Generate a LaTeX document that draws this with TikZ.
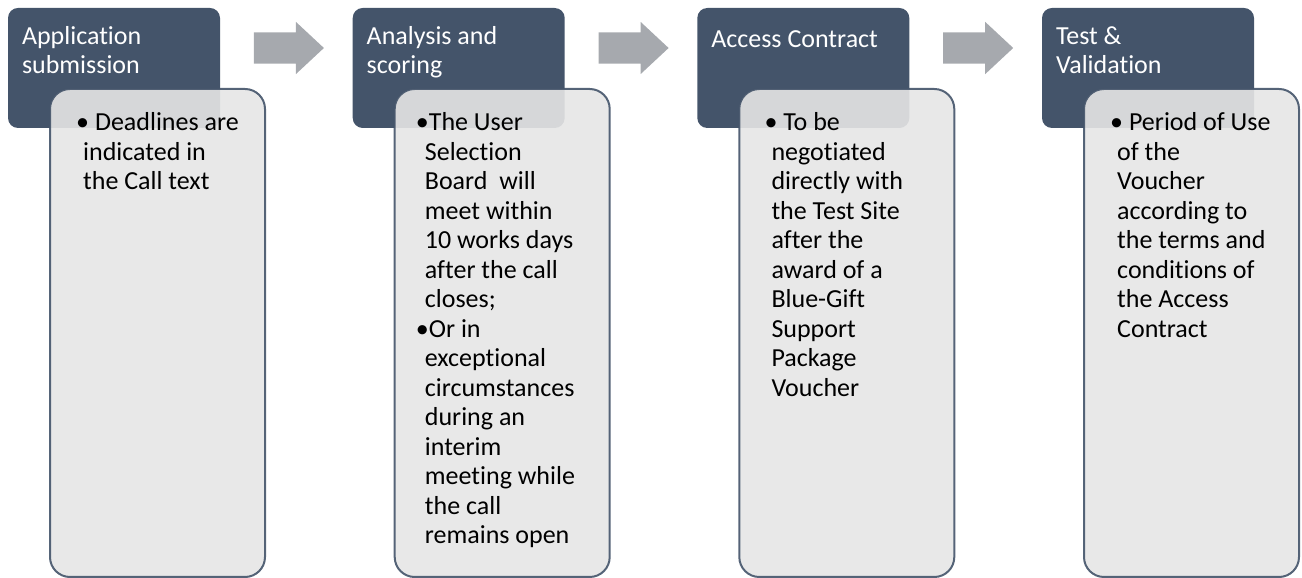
\documentclass[tikz,border=0pt]{standalone}
\usepackage{fontspec}
\setmainfont{Carlito}[Ligatures=NoCommon]
\usetikzlibrary{shapes.arrows,calc}
\definecolor{slate}{HTML}{44546A}
\definecolor{panel}{HTML}{E6E6E6}
\definecolor{arrowgrey}{HTML}{A6A9AE}
\begin{document}
\begin{tikzpicture}[x=1pt,y=1pt,
  head/.style={rounded corners=10pt,fill=slate,minimum width=212pt,minimum height=120pt,inner sep=0pt},
  body/.style={rounded corners=20pt,draw=slate,line width=2pt,fill=panel,fill opacity=0.9,draw opacity=0.9,minimum width=215pt,minimum height=488pt,inner sep=0pt},
  headtext/.style={anchor=north west,inner sep=0pt,text=white,align=left,font=\fontsize{26}{29.5}\selectfont,execute at begin node=\strut},
  bodytext/.style={anchor=north west,inner sep=0pt,text=black,align=left,font=\fontsize{26}{29.5}\selectfont,execute at begin node=\strut},
  flow/.style={single arrow,anchor=tail,fill=arrowgrey,draw=none,minimum height=70pt,inner xsep=0pt,inner ysep=15.5pt,single arrow head extend=10.5pt,single arrow head indent=0pt,single arrow tip angle=86}]
\useasboundingbox (0,0) rectangle (1302,578);
\node[head] (H1) at (114,510) {};
\node[head] (H2) at (458.7,510) {};
\node[head] (H3) at (803.3,510) {};
\node[head] (H4) at (1148,510) {};
\node[headtext] (T1) at ($(H1.north west)+(14,-18.4)$) {Application\\submission};
\node[headtext] (T2) at ($(H2.north west)+(14,-18.4)$) {Analysis and\\scoring};
\node[headtext] (T3) at ($(H3.north west)+(14,-18.4)$) {Access Contract};
\node[headtext] (T4) at ($(H4.north west)+(14,-18.4)$) {Test \&\\Validation};
\node[body] (B1) at ($(H1.center)+(43.5,-265)$) {};
\node[body] (B2) at ($(H2.center)+(43.5,-265)$) {};
\node[body] (B3) at ($(H3.center)+(43.5,-265)$) {};
\node[body] (B4) at ($(H4.center)+(43.5,-265)$) {};
\node[bodytext] (P1) at ($(B1.north west)+(34,-24.4)$) {\hspace*{-7pt}•\ Deadlines are\\indicated in\\the Call text};
\node[bodytext] (P2) at ($(B2.north west)+(31,-24.4)$) {\hspace*{-9pt}•The User\\Selection\\Board\ \ will\\meet within\\10 works days\\after the call\\closes;\\\hspace*{-9pt}•Or in\\exceptional\\circumstances\\during an\\interim\\meeting while\\the call\\remains open};
\node[bodytext] (P3) at ($(B3.north west)+(33,-24.4)$) {\hspace*{-7pt}•\ To be\\negotiated\\directly with\\the Test Site\\after the\\award of a\\Blue-Gift\\Support\\Package\\Voucher};
\node[bodytext] (P4) at ($(B4.north west)+(34,-24.4)$) {\hspace*{-7pt}•\ Period of Use\\of the\\Voucher\\according to\\the terms and\\conditions of\\the Access\\Contract};
\node[flow] (A1) at ($(H1.east)+(33.5,20)$) {};
\node[flow] (A2) at ($(H2.east)+(33.5,20)$) {};
\node[flow] (A3) at ($(H3.east)+(33.5,20)$) {};
\end{tikzpicture}
\end{document}
